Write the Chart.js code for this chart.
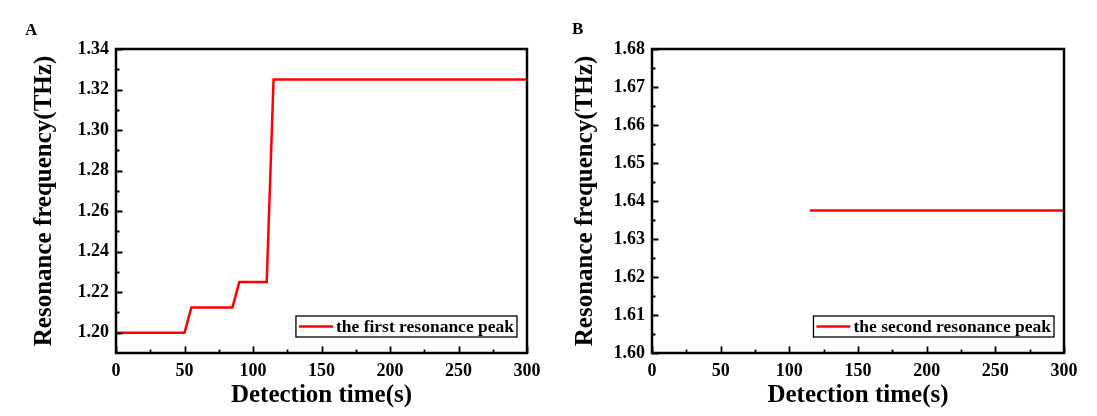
<!DOCTYPE html>
<html><head><meta charset="utf-8">
<script src="https://cdn.jsdelivr.net/npm/chart.js@4.4.1/dist/chart.umd.min.js"></script>
<style>
html,body{margin:0;padding:0;background:#fff;}
#wrap{position:relative;width:1097px;height:416px;overflow:hidden;background:#fff;}
canvas{position:absolute;top:0;}
#cA{left:0}
#cB{left:550px}
.lbl{position:absolute;font:bold 17px "Liberation Serif",serif;color:#000;line-height:17px;}
</style></head><body>
<div id="wrap">
<canvas id="cA" width="550" height="416"></canvas>
<canvas id="cB" width="547" height="416"></canvas>
<div class="lbl" style="left:25px;top:21px">A</div>
<div class="lbl" style="left:572px;top:20px">B</div>
</div>
<script>
// ---- data ----
const timeA = [0, 50, 55, 85, 90, 110, 115, 300];
const freqA = [1.2, 1.2, 1.2125, 1.2125, 1.225, 1.225, 1.325, 1.325];
const timeB = [115, 300];
const freqB = [1.6375, 1.6375];
const labelA = 'the first resonance peak';
const labelB = 'the second resonance peak';
// ---- tick labels ----
const xMajor = [0, 50, 100, 150, 200, 250, 300];
const yMajorA = [1.20, 1.22, 1.24, 1.26, 1.28, 1.30, 1.32, 1.34];
const yMajorB = [1.60, 1.61, 1.62, 1.63, 1.64, 1.65, 1.66, 1.67, 1.68];
const xTitle = 'Detection time(s)';
const yTitle = 'Resonance frequency(THz)';

const FAMILY = "'Liberation Serif', 'Times New Roman', serif";
const RED = '#ff0000';

function withMinor(major) {
  const out = [];
  for (let i = 0; i < major.length; i++) {
    out.push({value: major[i], isMajor: true});
    if (i < major.length - 1) out.push({value: (major[i] + major[i + 1]) / 2, isMajor: false});
  }
  return out;
}
function isIn(arr, v) { return arr.some(a => Math.abs(a - v) < 1e-9); }

const frameTicks = {
  id: 'frameTicks',
  afterDraw(chart) {
    const {ctx, chartArea: a, scales} = chart;
    ctx.save();
    ctx.strokeStyle = '#000';
    ctx.lineWidth = 1.8;
    ctx.beginPath();
    scales.x.ticks.forEach(t => {
      const px = Math.round(scales.x.getPixelForValue(t.value)) + 0.5;
      const len = t.isMajor ? 6.5 : 3.5;
      ctx.moveTo(px, a.bottom); ctx.lineTo(px, a.bottom - len);
    });
    scales.y.ticks.forEach(t => {
      const py = Math.round(scales.y.getPixelForValue(t.value)) + 0.5;
      const len = t.isMajor ? 6.5 : 3.5;
      ctx.moveTo(a.left, py); ctx.lineTo(a.left + len, py);
    });
    ctx.stroke();
    ctx.lineWidth = 2.5;
    ctx.strokeRect(a.left, a.top, a.right - a.left, a.bottom - a.top);

    // legend box inside plot
    const ds = chart.data.datasets[0];
    ctx.font = 'bold 17.5px ' + FAMILY;
    const tw = ctx.measureText(ds.label).width;
    const boxW = 2 + 34 + 4 + tw + 3, boxH = 21;
    const bx = a.right - 10 - boxW, by = a.bottom - 16 - boxH;
    ctx.fillStyle = '#fff';
    ctx.fillRect(bx, by, boxW, boxH);
    ctx.lineWidth = 1.3;
    ctx.strokeStyle = '#000';
    ctx.strokeRect(bx, by, boxW, boxH);
    ctx.strokeStyle = ds.borderColor;
    ctx.lineWidth = 2.5;
    ctx.beginPath();
    ctx.moveTo(bx + 3, by + boxH / 2); ctx.lineTo(bx + 37, by + boxH / 2);
    ctx.stroke();
    ctx.fillStyle = '#000';
    ctx.textBaseline = 'middle';
    ctx.textAlign = 'left';
    ctx.fillText(ds.label, bx + 40, by + boxH / 2 + 1);
    ctx.restore();
  }
};

function makeChart(id, xs, ys, label, yMin, yMax, yMajor, yWidth, yTitlePad, rightPad) {
  return new Chart(document.getElementById(id), {
    type: 'line',
    data: {datasets: [{label: label, data: xs.map((x, i) => ({x: x, y: ys[i]})),
      borderColor: RED, borderWidth: 2.5, pointRadius: 0, tension: 0, fill: false}]},
    options: {
      responsive: false, animation: false, devicePixelRatio: 1,
      layout: {padding: {top: 49, right: rightPad, left: 0, bottom: 0}},
      plugins: {legend: {display: false}, tooltip: {enabled: false}},
      scales: {
        x: {
          type: 'linear', min: 0, max: 300, position: 'bottom',
          afterBuildTicks: s => { s.ticks = withMinor(xMajor); },
          afterFit: s => { s.height = 63; },
          grid: {display: false, drawTicks: false}, border: {display: false},
          ticks: {autoSkip: false, maxRotation: 0, padding: 8, color: '#000',
            font: {family: FAMILY, weight: 'bold', size: 18},
            callback: v => isIn(xMajor, v) ? String(Math.round(v)) : ''},
          title: {display: true, text: xTitle, color: '#000',
            font: {family: FAMILY, weight: 'bold', size: 25}, padding: {top: 0, bottom: 5}}
        },
        y: {
          type: 'linear', min: yMin, max: yMax, position: 'left',
          afterBuildTicks: s => { s.ticks = withMinor(yMajor); },
          afterFit: s => { s.width = yWidth; },
          grid: {display: false, drawTicks: false}, border: {display: false},
          ticks: {autoSkip: false, padding: 7, color: '#000',
            font: {family: FAMILY, weight: 'bold', size: 18},
            callback: v => isIn(yMajor, v) ? v.toFixed(2) : ''},
          title: {display: true, text: yTitle, color: '#000',
            font: {family: FAMILY, weight: 'bold', size: 25}, padding: {top: yTitlePad, bottom: 0}}
        }
      }
    },
    plugins: [frameTicks]
  });
}

makeChart('cA', timeA, freqA, labelA, 1.19, 1.34, yMajorA, 116, 30, 23);
makeChart('cB', timeB, freqB, labelB, 1.60, 1.68, yMajorB, 102, 21, 33);
</script>
</body></html>
